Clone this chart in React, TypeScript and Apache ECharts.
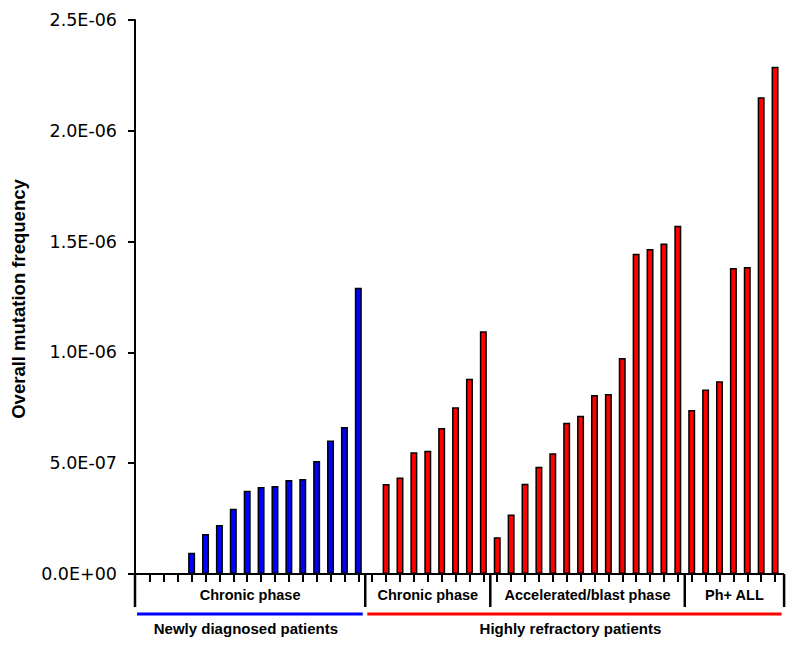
import React, { useEffect, useRef } from "react";
import * as echarts from "echarts";

// Overall mutation frequency (values in units of 1E-07), one bar per patient
const newlyChronic = [0, 0, 0, 0.96, 1.81, 2.21, 2.95, 3.76, 3.93, 3.97, 4.24, 4.29, 5.1, 6.03, 6.63, 12.92];
const refractoryChronic = [0, 4.06, 4.36, 5.49, 5.56, 6.59, 7.52, 8.81, 10.96];
const refractoryAccelerated = [1.66, 2.69, 4.07, 4.84, 5.45, 6.83, 7.14, 8.08, 8.12, 9.75, 14.45, 14.67, 14.91, 15.72];
const refractoryPhAll = [7.4, 8.33, 8.7, 13.81, 13.85, 21.51, 22.89];

const phaseLabels = ["Chronic phase", "Chronic phase", "Accelerated/blast phase", "Ph+ ALL"];
const cohortLabels = ["Newly diagnosed patients", "Highly refractory patients"];
const yTitle = "Overall mutation frequency";
const yMin = 0;
const yMax = 2.5e-6;
const yStep = 5e-7;

const groups = [newlyChronic, refractoryChronic, refractoryAccelerated, refractoryPhAll];
const groupPrefix = ["N", "C", "A", "P"];
const groupColor = ["#0000FF", "#FF0000", "#FF0000", "#FF0000"];

const categories: string[] = [];
const barData: any[] = [];
groups.forEach((g, gi) => {
  g.forEach((v, i) => {
    categories.push(groupPrefix[gi] + (i + 1));
    barData.push({ value: v * 1e-7, itemStyle: { color: groupColor[gi] } });
  });
});

const fmt = (v: number) => {
  if (v === 0) return "0.0E+00";
  const s = v.toExponential(1);
  const [m, e] = s.split("e");
  const n = parseInt(e, 10);
  const sign = n < 0 ? "-" : "+";
  const abs = Math.abs(n);
  return `${m}E${sign}${abs < 10 ? "0" + abs : abs}`;
};

const GRID_LEFT = 143;
const GRID_RIGHT = 18;
const GRID_TOP = 20;
const GRID_BOTTOM = 74;
const Y_AXIS_X = 135;

export default function App() {
  const ref = useRef<HTMLDivElement>(null);
  useEffect(() => {
    if (!ref.current) return;
    const chart = echarts.init(ref.current, null, { renderer: "svg" });
    chart.setOption({
      animation: false,
      backgroundColor: "#ffffff",
      grid: { left: GRID_LEFT, right: GRID_RIGHT, top: GRID_TOP, bottom: GRID_BOTTOM, containLabel: false },
      xAxis: {
        type: "category",
        data: categories,
        boundaryGap: true,
        axisLine: { show: true, lineStyle: { color: "#000", width: 2 } },
        axisTick: { show: true, alignWithLabel: true, interval: 0, length: 8, lineStyle: { color: "#000", width: 2 } },
        axisLabel: { show: false },
        splitLine: { show: false },
      },
      yAxis: {
        type: "value",
        min: yMin,
        max: yMax,
        interval: yStep,
        offset: GRID_LEFT - Y_AXIS_X,
        axisLine: { show: true, lineStyle: { color: "#000", width: 2 } },
        axisTick: { show: true, length: 7, lineStyle: { color: "#000", width: 2 } },
        axisLabel: {
          formatter: fmt,
          color: "#000",
          fontFamily: "DejaVu Sans",
          fontSize: 17.5,
          margin: 18,
        },
        splitLine: { show: false },
      },
      series: [
        {
          type: "bar",
          data: barData,
          barWidth: 7,
          itemStyle: { borderColor: "#000", borderWidth: 1.5 },
        },
      ],
    });

    const baseY = chart.convertToPixel({ yAxisIndex: 0 }, 0) as number;
    const cx = (i: number) => chart.convertToPixel({ xAxisIndex: 0 }, categories[i]) as number;
    const band = cx(1) - cx(0);
    const bounds: number[] = [0];
    groups.reduce((acc, g) => {
      bounds.push(acc + g.length);
      return acc + g.length;
    }, 0);
    const edgeX = (b: number) => {
      if (b === 0) return Y_AXIS_X;
      if (b === categories.length) return cx(b - 1) + band * 0.65;
      return (cx(b - 1) + cx(b)) / 2;
    };
    const sepBottom = baseY + 33;
    const graphic: any[] = [];
    graphic.push({
      type: "line",
      shape: { x1: Y_AXIS_X, y1: baseY, x2: edgeX(categories.length), y2: baseY },
      style: { stroke: "#000", lineWidth: 2 },
    });
    bounds.forEach((b) => {
      graphic.push({
        type: "line",
        shape: { x1: edgeX(b), y1: baseY, x2: edgeX(b), y2: sepBottom },
        style: { stroke: "#000", lineWidth: 2.5 },
      });
    });
    phaseLabels.forEach((t, i) => {
      const x = (edgeX(bounds[i]) + edgeX(bounds[i + 1])) / 2;
      graphic.push({
        type: "text",
        x,
        y: baseY + 21,
        style: {
          text: t,
          align: "center",
          verticalAlign: "middle",
          fill: "#000",
          fontFamily: "Liberation Sans, Arial, sans-serif",
          fontWeight: "bold",
          fontSize: 14.5,
        },
      });
    });
    // cohort lines and labels
    const cohorts = [
      { x1: edgeX(0) + 2, x2: edgeX(bounds[1]) - 2.5, color: "#0000FF", label: cohortLabels[0] },
      { x1: edgeX(bounds[1]) + 2, x2: edgeX(categories.length) - 2.5, color: "#FF0000", label: cohortLabels[1] },
    ];
    cohorts.forEach((c) => {
      graphic.push({
        type: "line",
        shape: { x1: c.x1, y1: baseY + 40, x2: c.x2, y2: baseY + 40 },
        style: { stroke: c.color, lineWidth: 3 },
      });
      graphic.push({
        type: "text",
        x: (c.x1 + c.x2) / 2 - 4,
        y: baseY + 54,
        style: {
          text: c.label,
          align: "center",
          verticalAlign: "middle",
          fill: "#000",
          fontFamily: "Liberation Sans, Arial, sans-serif",
          fontWeight: "bold",
          fontSize: 15,
        },
      });
    });
    graphic.push({
      type: "text",
      x: 18,
      y: (GRID_TOP + baseY) / 2 + 2,
      rotation: Math.PI / 2,
      style: {
        text: yTitle,
        align: "center",
        verticalAlign: "middle",
        fill: "#000",
        fontFamily: "Liberation Sans, Arial, sans-serif",
        fontWeight: "bold",
        fontSize: 18.5,
      },
    });
    chart.setOption({ graphic });

    return () => chart.dispose();
  }, []);
  return (
    <div
      ref={ref}
      style={{ position: "fixed", left: 0, top: 0, width: 800, height: 648, background: "#fff" }}
    />
  );
}
